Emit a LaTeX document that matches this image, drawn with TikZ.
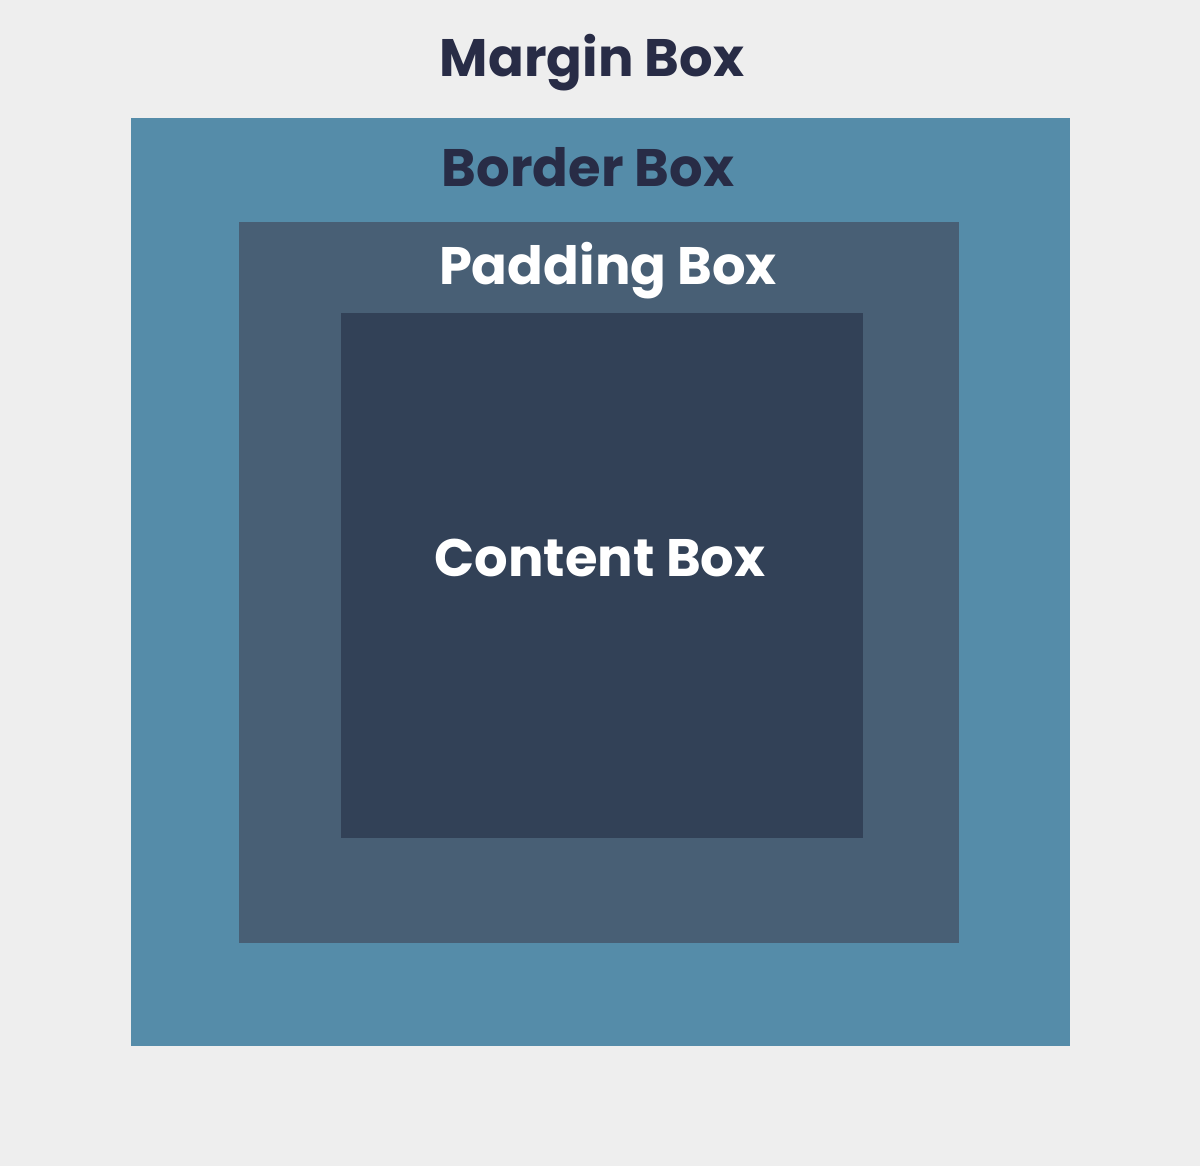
\documentclass[tikz,border=0pt]{standalone}
\usepackage{fontspec}
\setmainfont{Poppins}
\usepackage{xcolor}
\definecolor{marginbg}{RGB}{238,238,238}
\definecolor{borderblue}{RGB}{85,140,169}
\definecolor{paddingslate}{RGB}{72,95,117}
\definecolor{contentnavy}{RGB}{50,65,87}
\definecolor{darkink}{RGB}{40,44,70}
\tikzset{boxlabel/.style={font=\fontsize{15}{18}\selectfont\bfseries, inner sep=0pt, anchor=center}}

\begin{document}
\begin{tikzpicture}[x=0.01cm,y=-0.01cm]
        \fill[marginbg] (0,0) rectangle (1200,1166);
        \fill[borderblue] (131,118) rectangle (1070,1046);
        \fill[paddingslate] (239,222) rectangle (959,943);
        \fill[contentnavy] (341,313) rectangle (863,838);
        \node[boxlabel, text=darkink] (marginlbl) at (592,63) {Margin Box};
        \node[boxlabel, text=darkink] (borderlbl) at (588,167) {Border Box};
        \node[boxlabel, text=white] (paddinglbl) at (608,271) {Padding Box};
        \node[boxlabel, text=white] (contentlbl) at (600,558) {Content Box};
    \end{tikzpicture}
\end{document}
